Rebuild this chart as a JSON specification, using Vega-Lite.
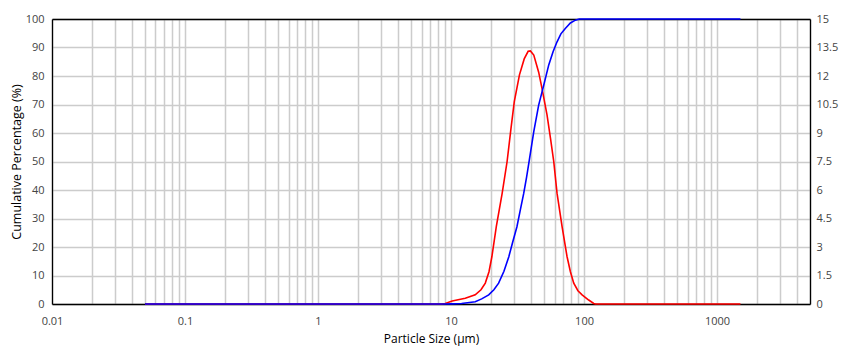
{
  "$schema": "https://vega.github.io/schema/vega-lite/v6.json",
  "width": 758,
  "height": 285,
  "autosize": {"type": "none"},
  "padding": {"left": 52, "top": 19, "right": 48, "bottom": 50},
  "background": "white",
  "config": {
    "view": {"stroke": null},
    "font": "Open Sans",
    "axis": {
      "labelFont": "Open Sans",
      "titleFont": "Open Sans",
      "labelFontSize": 11,
      "titleFontSize": 12,
      "titleFontWeight": "normal",
      "labelColor": "#444444",
      "titleColor": "#000000",
      "ticks": false,
      "domainColor": "black",
      "domainWidth": 1.3,
      "gridColor": "#cccccc",
      "gridWidth": 1.5,
      "gridOpacity": 1,
      "zindex": 0
    }
  },
  "datasets": {
    "cum": [
      {"size": 0.05, "v": 0}, {"size": 1, "v": 0}, {"size": 9, "v": 0},
      {"size": 10, "v": 0.05}, {"size": 12, "v": 0.2}, {"size": 15.2, "v": 0.8},
      {"size": 17, "v": 1.8}, {"size": 19.2, "v": 3.2}, {"size": 21, "v": 5},
      {"size": 22.8, "v": 7.3}, {"size": 25, "v": 11.5}, {"size": 27.2, "v": 16.6},
      {"size": 29, "v": 21.5}, {"size": 31.3, "v": 27.1}, {"size": 33.2, "v": 33},
      {"size": 35.2, "v": 38.8}, {"size": 37, "v": 44.5}, {"size": 38.7, "v": 50.2},
      {"size": 41.9, "v": 60.5}, {"size": 45.6, "v": 69.8}, {"size": 49.8, "v": 76.8},
      {"size": 54.3, "v": 83.9}, {"size": 58.5, "v": 88.5}, {"size": 62.7, "v": 92},
      {"size": 67, "v": 94.8}, {"size": 72.3, "v": 96.7}, {"size": 79, "v": 98.6},
      {"size": 86.1, "v": 99.6}, {"size": 92, "v": 100}, {"size": 1500, "v": 100}
    ],
    "freq": [
      {"size": 0.05, "v": 0}, {"size": 8.5, "v": 0}, {"size": 9.06, "v": 0.03},
      {"size": 10.2, "v": 0.16}, {"size": 12.8, "v": 0.3}, {"size": 15.2, "v": 0.48},
      {"size": 16.8, "v": 0.75}, {"size": 18.1, "v": 1.1}, {"size": 19.3, "v": 1.7},
      {"size": 20.3, "v": 2.5}, {"size": 21.9, "v": 4.07}, {"size": 24.2, "v": 5.8},
      {"size": 26.4, "v": 7.5}, {"size": 28.2, "v": 9.2}, {"size": 29.9, "v": 10.65},
      {"size": 32.7, "v": 12.06}, {"size": 35.5, "v": 12.9}, {"size": 38, "v": 13.3},
      {"size": 39.5, "v": 13.32}, {"size": 41.9, "v": 13.1}, {"size": 45.6, "v": 12.2},
      {"size": 48.3, "v": 11.35}, {"size": 52.7, "v": 9.95}, {"size": 56, "v": 8.7},
      {"size": 59.2, "v": 7.5}, {"size": 62.7, "v": 5.82}, {"size": 68.4, "v": 4.07},
      {"size": 74.5, "v": 2.5}, {"size": 79, "v": 1.7}, {"size": 83.7, "v": 1.1},
      {"size": 90, "v": 0.7}, {"size": 96.7, "v": 0.48}, {"size": 108.4, "v": 0.21},
      {"size": 118.3, "v": 0.03}, {"size": 122, "v": 0}, {"size": 1500, "v": 0}
    ]
  },
  "layer": [
    {
      "data": {"name": "freq"},
      "mark": {"type": "line", "color": "#ff0000", "strokeWidth": 1.6, "clip": false},
      "encoding": {
        "x": {
          "field": "size", "type": "quantitative",
          "scale": {"type": "log", "domain": [0.01, 5000], "nice": false},
          "axis": {"orient": "top", "labels": false, "title": null, "grid": false, "values": [0.01, 5000]}
        },
        "y": {
          "field": "v", "type": "quantitative",
          "scale": {"domain": [0, 15], "nice": false},
          "axis": {
            "orient": "right", "title": null, "grid": false,
            "values": [0, 1.5, 3, 4.5, 6, 7.5, 9, 10.5, 12, 13.5, 15],
            "labelExpr": "datum.value + ''", "labelPadding": 6
          }
        }
      }
    },
    {
      "data": {"name": "cum"},
      "mark": {"type": "line", "color": "#0000ff", "strokeWidth": 1.6, "clip": false},
      "encoding": {
        "x": {
          "field": "size", "type": "quantitative",
          "scale": {"type": "log", "domain": [0.01, 5000], "nice": false},
          "axis": {
            "orient": "bottom",
            "title": "Particle Size (µm)",
            "grid": true,
            "values": [0.01, 0.02, 0.03, 0.04, 0.05, 0.06, 0.07, 0.08, 0.09,
                       0.1, 0.2, 0.3, 0.4, 0.5, 0.6, 0.7, 0.8, 0.9,
                       1, 2, 3, 4, 5, 6, 7, 8, 9,
                       10, 20, 30, 40, 50, 60, 70, 80, 90,
                       100, 200, 300, 400, 500, 600, 700, 800, 900,
                       1000, 2000, 3000, 4000, 5000],
            "labelExpr": "indexof([0.01, 0.1, 1, 10, 100, 1000], datum.value) >= 0 ? datum.value + '' : ''",
            "labelPadding": 11,
            "titlePadding": 7,
            "labelFlush": false
          }
        },
        "y": {
          "field": "v", "type": "quantitative",
          "scale": {"domain": [0, 100], "nice": false},
          "axis": {
            "title": "Cumulative Percentage (%)",
            "titleFontSize": 12.5,
            "grid": true,
            "values": [0, 10, 20, 30, 40, 50, 60, 70, 80, 90, 100],
            "labelPadding": 8,
            "titlePadding": 2
          }
        }
      }
    }
  ],
  "resolve": {"scale": {"y": "independent"}, "axis": {"x": "independent"}}
}
